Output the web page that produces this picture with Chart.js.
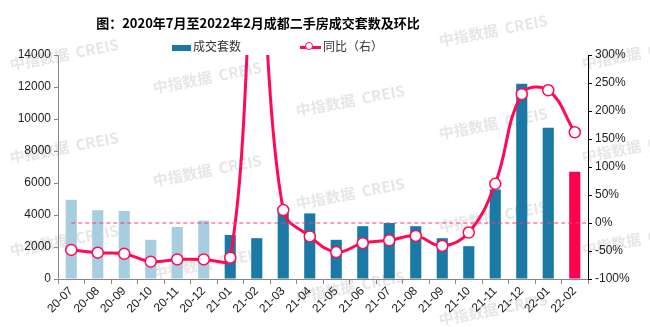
<!DOCTYPE html>
<html>
<head>
<meta charset="utf-8">
<script src="https://cdn.jsdelivr.net/npm/chart.js@4"></script>
<style>
  body { margin: 0; background: #fff; }
  #wrap { position: relative; width: 650px; height: 327px; font-family: "Liberation Sans", "Noto Sans CJK SC", sans-serif; }
  #title { position: absolute; top: 13px; left: 0; width: 516px; text-align: center; font-weight: bold; font-size: 13px; color: #000; font-family: "Noto Sans CJK SC", sans-serif; }
  .leg { position: absolute; top: 38px; font-size: 12px; color: #333; font-family: "Noto Sans CJK SC", sans-serif; line-height: 16px; }
  .sw-bar { display: inline-block; width: 19px; height: 6px; background: #1a7aa5; vertical-align: middle; margin-right: 2px; }
  .sw-line { display: inline-block; position: relative; width: 21px; height: 3px; background: #ff0a54; vertical-align: middle; margin-right: 2px; }
  .sw-line::after { content: ""; position: absolute; left: 5px; top: -4px; width: 8px; height: 8px; border-radius: 50%; background: #fff; border: 1.5px solid #ff0a54; box-sizing: border-box; }
  canvas { position: absolute; left: 0; top: 0; }
</style>
</head>
<body>
<div id="wrap">
  <canvas id="chart" width="650" height="327"></canvas>
  <div id="title">图：2020年7月至2022年2月成都二手房成交套数及环比</div>
  <div class="leg" style="left:172px"><span class="sw-bar"></span>成交套数</div>
  <div class="leg" style="left:300px"><span class="sw-line"></span>同比（右）</div>
</div>
<script>
const months = ["20-07", "20-08", "20-09", "20-10", "20-11", "20-12", "21-01", "21-02", "21-03", "21-04",
    "21-05", "21-06", "21-07", "21-08", "21-09", "21-10", "21-11", "21-12", "22-01", "22-02"];
const deals = [4950, 4300, 4250, 2450, 3250, 3650, 2750, 2550, 4500, 4100,
    2450, 3300, 3500, 3300, 2550, 2050, 5600, 12200, 9450, 6700];
const yoy = [-48, -53, -55, -69, -65, -65, -62, 490, 23, -24,
    -52, -36, -31, -23, -41, -17, 70, 230, 237, 162];
const leftTicks = [0, 2000, 4000, 6000, 8000, 10000, 12000, 14000];
const rightTicks = [-100, -50, 0, 50, 100, 150, 200, 250, 300];

const barColors = months.map((m, i) => (i < 6 ? "#a7cde0" : i === months.length - 1 ? "#ff0050" : "#1a7aa5"));

// 水印
const watermark = {
    id: "watermark",
    beforeDraw(chart) {
        const ctx = chart.ctx;
        ctx.save();
        ctx.fillStyle = "rgba(190,190,190,0.38)";
        ctx.font = "bold 15px 'Noto Sans CJK SC', sans-serif";
        ctx.textBaseline = "middle";
        for (let col = 0; col < 5; col++) {
            for (let row = -1; row < 4; row++) {
                const x = 10 + 143 * col;
                const y = 65 + 23 * col + 93 * row;
                if (y < 20 || y > 320) continue;
                ctx.save();
                ctx.translate(x, y);
                ctx.rotate(-0.19);
                ctx.fillText("中指数据  CREIS", 0, 0);
                ctx.restore();
            }
        }
        ctx.restore();
    },
};

// 0% 虚线
const zeroLine = {
    id: "zeroLine",
    afterDatasetsDraw(chart) {
        const ctx = chart.ctx;
        const y = chart.scales.y1.getPixelForValue(0);
        const x0 = chart.scales.x.getPixelForValue(0);
        ctx.save();
        ctx.strokeStyle = "#ff3a77";
        ctx.lineWidth = 1;
        ctx.setLineDash([4, 3]);
        ctx.beginPath();
        ctx.moveTo(x0, y);
        ctx.lineTo(chart.chartArea.right, y);
        ctx.stroke();
        ctx.restore();
    },
};

new Chart(document.getElementById("chart"), {
    type: "bar",
    data: {
        labels: months,
        datasets: [
            {
                type: "line",
                label: "同比（右）",
                data: yoy,
                yAxisID: "y1",
                borderColor: "#ff0a54",
                borderWidth: 3,
                tension: 0.4,
                pointRadius: 5.5,
                pointBackgroundColor: "#fff",
                pointBorderColor: "#ff0a54",
                pointBorderWidth: 1.5,
                order: 0,
            },
            {
                label: "成交套数",
                data: deals,
                yAxisID: "y",
                backgroundColor: barColors,
                barPercentage: 0.42,
                categoryPercentage: 1,
                order: 1,
            },
        ],
    },
    options: {
        responsive: false,
        animation: false,
        layout: { padding: { top: 55 } },
        plugins: { legend: { display: false }, tooltip: { enabled: false } },
        scales: {
            x: {
                grid: { drawOnChartArea: false, tickLength: 5, color: "#888" },
                border: { color: "#888" },
                ticks: { color: "#222", font: { size: 12, family: "Liberation Sans" }, maxRotation: 45, minRotation: 45, padding: 0 },
                afterFit: (s) => { s.height = 48; },
            },
            y: {
                position: "left",
                min: 0,
                max: 14000,
                afterBuildTicks: (s) => { s.ticks = leftTicks.map((v) => ({ value: v })); },
                grid: { drawOnChartArea: false, tickLength: 4, color: "#888" },
                border: { color: "#888" },
                ticks: { color: "#222", font: { size: 12, family: "Liberation Sans" }, padding: 3, callback: (v) => String(v) },
                afterFit: (s) => { s.width = 58; },
            },
            y1: {
                position: "right",
                min: -100,
                max: 300,
                afterBuildTicks: (s) => { s.ticks = rightTicks.map((v) => ({ value: v })); },
                grid: { drawOnChartArea: false, tickLength: 4, color: "#000" },
                border: { color: "#000" },
                ticks: { color: "#222", font: { size: 12, family: "Liberation Sans" }, padding: 3, callback: (v) => v + "%" },
                afterFit: (s) => { s.width = 62; },
            },
        },
    },
    plugins: [watermark, zeroLine],
});
</script>
</body>
</html>
